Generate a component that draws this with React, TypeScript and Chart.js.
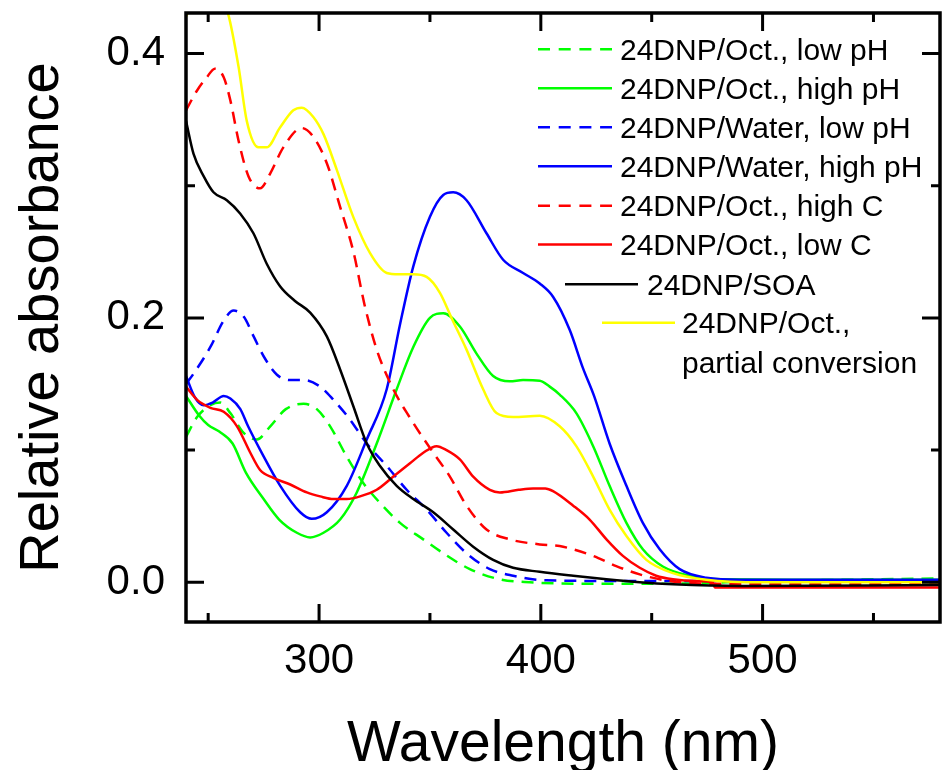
import React, { useEffect, useRef } from "react";
import { Chart, registerables } from "chart.js";

Chart.register(...registerables);

const FONT = '"Liberation Sans", Arial, Helvetica, sans-serif';

// ---- axis ticks ----
const xMajorTicks = [300, 400, 500];
const xMinorTicks = [250, 350, 450, 550];
const yMajorTicks = [0, 0.2, 0.4];
const yMinorTicks = [0.1, 0.3];

// ---- series labels ----
const seriesLabels = [
  "24DNP/Oct., low pH",
  "24DNP/Oct., high pH",
  "24DNP/Water, low pH",
  "24DNP/Water, high pH",
  "24DNP/Oct., high C",
  "24DNP/Oct., low C",
  "24DNP/SOA",
  "24DNP/Oct.,\npartial conversion",
];

// ---- series data (wavelength nm / relative absorbance) ----
const wlOctLowPH = [240, 245, 251, 255.5, 260, 266, 272, 278, 285, 293, 299, 305, 312.5, 320, 327.5, 336.5, 347, 356, 368, 381.5, 395, 420, 460, 500, 540, 580];
const absOctLowPH = [0.110, 0.125, 0.134, 0.136, 0.128, 0.113, 0.108, 0.118, 0.131, 0.135, 0.131, 0.118, 0.095, 0.075, 0.060, 0.045, 0.0325, 0.022, 0.010, 0.0023, 0.0, -0.001, -0.001, 0.001, 0.002, 0.003];

const wlOctHighPH = [240, 246, 250, 255, 261, 267, 275, 282, 290, 296, 302, 309.5, 317, 326, 335, 342.5, 350, 356, 363.5, 371, 378.5, 386, 392, 399.5, 404, 408.5, 416, 423.6, 431, 438.6, 446, 455, 467, 482, 520, 580];
const absOctHighPH = [0.141, 0.126, 0.119, 0.114, 0.105, 0.083, 0.063, 0.0475, 0.0375, 0.034, 0.0375, 0.0475, 0.068, 0.105, 0.146, 0.178, 0.200, 0.2035, 0.1935, 0.173, 0.156, 0.152, 0.153, 0.1525, 0.148, 0.142, 0.128, 0.103, 0.073, 0.045, 0.025, 0.012, 0.005, 0.0023, 0.002, 0.002];

const wlWaterLowPH = [240, 243.5, 251, 257, 261.5, 266, 270.5, 275, 281, 287, 293, 300.5, 306.5, 314, 321.5, 330.5, 339.5, 348.5, 357.5, 366.5, 377, 387.5, 402.5, 440, 500, 580];
const absWaterLowPH = [0.150, 0.158, 0.178, 0.198, 0.2055, 0.201, 0.186, 0.171, 0.157, 0.153, 0.153, 0.148, 0.138, 0.123, 0.105, 0.088, 0.070, 0.055, 0.0375, 0.022, 0.010, 0.005, 0.0015, 0.001, 0.001, 0.001];

const wlWaterHighPH = [240, 244, 248, 252, 257, 260, 264.5, 268, 273.5, 282.5, 291.5, 296.7, 303.5, 312.5, 321.5, 330.5, 336.5, 342.5, 350, 356, 360.5, 366.5, 375.5, 383, 392, 399.5, 405.5, 413, 419, 424, 431, 438.6, 446, 453.6, 462.6, 474.6, 490, 580];
const absWaterHighPH = [0.156, 0.140, 0.134, 0.136, 0.141, 0.139, 0.131, 0.118, 0.100, 0.073, 0.053, 0.048, 0.053, 0.073, 0.108, 0.146, 0.195, 0.239, 0.2765, 0.293, 0.295, 0.289, 0.264, 0.244, 0.234, 0.226, 0.216, 0.191, 0.162, 0.141, 0.105, 0.073, 0.045, 0.025, 0.010, 0.0035, 0.002, 0.002];

const wlOctHighC = [240, 245, 249.4, 253, 257, 260, 263.7, 268.2, 273.4, 277.9, 283.9, 292.2, 297.4, 303.5, 309.5, 315.5, 320.5, 326, 333.5, 342.5, 351.5, 359, 366.5, 375.5, 386, 399.5, 408.5, 414.6, 423.6, 434, 444.6, 453.6, 462.6, 480, 580];
const absOctHighC = [0.357, 0.372, 0.382, 0.3885, 0.382, 0.3645, 0.334, 0.307, 0.298, 0.309, 0.329, 0.3436, 0.337, 0.317, 0.284, 0.250, 0.210, 0.176, 0.146, 0.1205, 0.098, 0.080, 0.058, 0.040, 0.0325, 0.0287, 0.0274, 0.025, 0.020, 0.0123, 0.006, 0.0023, 0.0, -0.001, -0.001];

const wlOctLowC = [240, 245, 251, 257, 263, 269, 273.4, 279.4, 287, 294.5, 300.5, 306.5, 312.5, 318.5, 326, 333.5, 341, 347, 353, 357.5, 363.5, 369.5, 377, 381.5, 390, 396.5, 402, 405.5, 414.6, 422, 429.6, 437, 444.6, 452, 459.6, 470, 477.5, 478.5, 580];
const absOctLowC = [0.148, 0.138, 0.132, 0.129, 0.118, 0.098, 0.085, 0.079, 0.074, 0.068, 0.065, 0.063, 0.063, 0.065, 0.070, 0.080, 0.090, 0.098, 0.103, 0.100, 0.093, 0.080, 0.070, 0.068, 0.070, 0.071, 0.071, 0.069, 0.058, 0.0475, 0.0325, 0.020, 0.011, 0.005, 0.0023, 0.001, 0.0, -0.004, -0.004];

const wlSOA = [240, 243.4, 248, 252.4, 258.4, 264.4, 270.4, 276.4, 282.4, 289, 296, 303.5, 309.5, 315.5, 321.5, 327.5, 335, 342.5, 351.5, 360.5, 369.5, 378.5, 387.5, 399.5, 414.6, 429.6, 444.6, 459.6, 490, 580];
const absSOA = [0.349, 0.324, 0.307, 0.295, 0.289, 0.279, 0.264, 0.241, 0.224, 0.213, 0.204, 0.186, 0.161, 0.133, 0.105, 0.088, 0.073, 0.063, 0.053, 0.040, 0.027, 0.017, 0.011, 0.008, 0.005, 0.0023, 0.0, -0.0015, -0.0028, -0.002];

const wlOctPartial = [240, 245, 252, 259, 263.7, 267.4, 272.7, 276.4, 282.4, 288.4, 292.2, 297.4, 302, 308, 315.5, 323, 330.5, 336, 342.5, 348.5, 354.5, 360, 366.5, 374, 380, 387.5, 399.5, 408.5, 416, 423.6, 431, 438.6, 447.6, 459.6, 474.6, 500, 580];
const absOctPartial = [0.428, 0.445, 0.455, 0.430, 0.390, 0.349, 0.329, 0.329, 0.344, 0.357, 0.359, 0.352, 0.339, 0.312, 0.276, 0.249, 0.234, 0.233, 0.233, 0.231, 0.219, 0.199, 0.176, 0.146, 0.128, 0.125, 0.126, 0.118, 0.103, 0.080, 0.055, 0.035, 0.017, 0.007, 0.002, 0.0, 0.0];

const seriesX = [wlOctLowPH, wlOctHighPH, wlWaterLowPH, wlWaterHighPH, wlOctHighC, wlOctLowC, wlSOA, wlOctPartial];
const seriesY = [absOctLowPH, absOctHighPH, absWaterLowPH, absWaterHighPH, absOctHighC, absOctLowC, absSOA, absOctPartial];

// ---- styles ----
const seriesColors = ["#00ff00", "#00ff00", "#0000ff", "#0000ff", "#ff0000", "#ff0000", "#000000", "#ffff00"];
const seriesDashed = [true, false, true, false, true, false, false, false];

// legend layout: line start, line end, text x, line y (center)
const legendLayout = [
  { x0: 538, x1: 612, tx: 620, y: 49.3 },
  { x0: 538, x1: 612, tx: 620, y: 88.3 },
  { x0: 538, x1: 612, tx: 620, y: 127.3 },
  { x0: 538, x1: 612, tx: 620, y: 166.2 },
  { x0: 538, x1: 612, tx: 620, y: 205.7 },
  { x0: 538, x1: 612, tx: 620, y: 244.5 },
  { x0: 565, x1: 638, tx: 647, y: 284.3 },
  { x0: 602, x1: 675, tx: 682, y: 322.7 },
];

const framePlugin = {
  id: "frameTicks",
  afterDatasetsDraw(chart: any) {
    const { ctx, chartArea, scales } = chart;
    const { left, right, top, bottom } = chartArea;
    const xs = scales.x;
    const ys = scales.y;
    ctx.save();
    ctx.strokeStyle = "#000";
    ctx.lineWidth = 3;
    ctx.lineCap = "butt";
    ctx.beginPath();
    const seg = (a: number, b: number, c: number, d: number) => {
      ctx.moveTo(a, b);
      ctx.lineTo(c, d);
    };
    const xt = (vals: number[], len: number) =>
      vals.forEach((v) => {
        const p = xs.getPixelForValue(v);
        seg(p, bottom, p, bottom - len);
        seg(p, top, p, top + len);
      });
    const yt = (vals: number[], len: number) =>
      vals.forEach((v) => {
        const p = ys.getPixelForValue(v);
        seg(left, p, left + len, p);
        seg(right, p, right - len, p);
      });
    xt(xMajorTicks, 18);
    xt(xMinorTicks, 9);
    yt(yMajorTicks, 18);
    yt(yMinorTicks, 9);
    ctx.stroke();
    ctx.lineWidth = 3.5;
    ctx.strokeRect(left, top, right - left, bottom - top);
    ctx.restore();

    // legend
    ctx.save();
    const fs = 30;
    ctx.font = `${fs}px ${FONT}`;
    ctx.textAlign = "left";
    ctx.textBaseline = "alphabetic";
    chart.data.datasets.forEach((ds: any, i: number) => {
      const L = legendLayout[i];
      if (!L) return;
      ctx.strokeStyle = ds.borderColor;
      ctx.lineWidth = 2.5;
      ctx.setLineDash(ds.borderDash && ds.borderDash.length ? [12, 8.7] : []);
      ctx.beginPath();
      ctx.moveTo(L.x0, L.y);
      ctx.lineTo(L.x1, L.y);
      ctx.stroke();
      ctx.setLineDash([]);
      ctx.fillStyle = "#000";
      const lines = String(seriesLabels[i]).split("\n");
      lines.forEach((t, k) => {
        ctx.fillText(t, L.tx, L.y + 0.358 * fs + k * 39.4);
      });
    });
    ctx.restore();
  },
};

export default function App() {
  const ref = useRef<HTMLCanvasElement | null>(null);

  useEffect(() => {
    if (!ref.current) return;
    const datasets = seriesX.map((xs, i) => ({
      label: seriesLabels[i].replace("\n", " "),
      data: xs.map((x, k) => ({ x, y: seriesY[i][k] })),
      borderColor: seriesColors[i],
      backgroundColor: seriesColors[i],
      borderWidth: 2.5,
      borderDash: seriesDashed[i] ? [12, 8] : [],
      pointRadius: 0,
      fill: false,
      cubicInterpolationMode: "monotone" as const,
      order: 8 - i,
    }));

    const chart = new Chart(ref.current, {
      type: "line",
      data: { datasets },
      plugins: [framePlugin],
      options: {
        responsive: false,
        animation: false,
        devicePixelRatio: 1,
        layout: { padding: { left: 0, right: 2, top: 13, bottom: 0 } },
        plugins: {
          legend: { display: false },
          tooltip: { enabled: false },
        },
        scales: {
          x: {
            type: "linear",
            min: 240,
            max: 580,
            grid: { display: false, drawTicks: false },
            border: { display: false },
            afterFit: (s: any) => {
              s.height = 148;
              s.paddingLeft = 0;
              s.paddingRight = 0;
              s.paddingTop = 0;
              s.paddingBottom = 0;
            },
            afterBuildTicks: (s: any) => {
              s.ticks = [...xMinorTicks, ...xMajorTicks].sort((a, b) => a - b).map((value) => ({ value }));
            },
            ticks: {
              autoSkip: false,
              maxRotation: 0,
              padding: 14,
              color: "#000",
              font: { size: 42, family: FONT },
              callback: (v: any) => (xMajorTicks.includes(Number(v)) ? String(v) : ""),
            },
            title: {
              display: true,
              text: "Wavelength (nm)",
              color: "#000",
              font: { size: 57, family: FONT, lineHeight: 1 },
              padding: { top: 0, bottom: -4 },
            },
          },
          y: {
            type: "linear",
            min: -0.03,
            max: 0.4306,
            grid: { display: false, drawTicks: false },
            border: { display: false },
            afterFit: (s: any) => {
              s.width = 186;
              s.paddingLeft = 0;
              s.paddingRight = 0;
              s.paddingTop = 0;
              s.paddingBottom = 0;
            },
            afterBuildTicks: (s: any) => {
              s.ticks = [...yMajorTicks, ...yMinorTicks].sort((a, b) => a - b).map((value) => ({ value }));
            },
            ticks: {
              autoSkip: false,
              padding: 21,
              color: "#000",
              font: { size: 42, family: FONT },
              callback: (v: any) => (yMajorTicks.some((t) => Math.abs(t - Number(v)) < 1e-9) ? Number(v).toFixed(1) : ""),
            },
            title: {
              display: true,
              text: "Relative absorbance",
              color: "#000",
              font: { size: 56, family: FONT, lineHeight: 1 },
              padding: { top: 15, bottom: 0 },
            },
          },
        },
      },
    });
    return () => chart.destroy();
  }, []);

  return (
    <div style={{ position: "absolute", left: 0, top: 0, width: 942, height: 770, background: "#fff" }}>
      <canvas ref={ref} width={942} height={770} style={{ display: "block", width: 942, height: 770 }} />
    </div>
  );
}
